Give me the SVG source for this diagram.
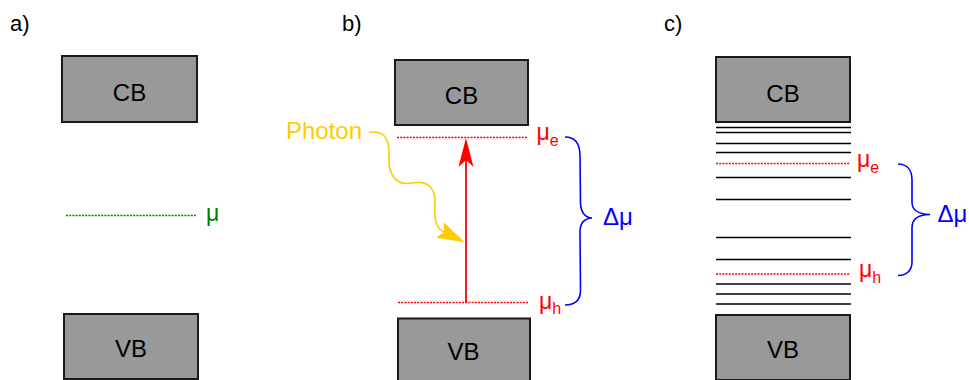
<svg xmlns="http://www.w3.org/2000/svg" width="969" height="380" viewBox="0 0 969 380">
<style>
text{font-family:"Liberation Sans",Arial,Helvetica,sans-serif;}
.band{fill:#999999;stroke:#1a1a1a;stroke-width:2;}
.bt{font-size:24px;fill:#000;text-anchor:middle;}
.lbl{font-size:22px;fill:#000;}
.lvl{stroke:#000;stroke-width:1.6;fill:none;}
.dotr{stroke:#ff0000;stroke-width:1.5;stroke-dasharray:2 1.2;fill:none;}
.dotg{stroke:#008000;stroke-width:1.5;stroke-dasharray:2 1.2;fill:none;}
.mr{font-size:23px;fill:#ff0000;}
.mg{font-size:23px;fill:#008000;}
.sub{font-size:16px;}
.brace{stroke:#0000ff;stroke-width:1.6;fill:none;}
.dm{font-size:24px;fill:#0000ff;}
</style>
<defs>
<marker id="arrRed" markerUnits="userSpaceOnUse" markerWidth="32" markerHeight="18" viewBox="0 -9 30 18" refX="7" refY="0" orient="auto">
<path d="M0,-7.5 L29,0 L0,7.5 L7,0 Z" fill="#ff0000"/>
</marker>
<marker id="arrYel" markerUnits="userSpaceOnUse" markerWidth="30" markerHeight="20" viewBox="0 -10 30 20" refX="4.5" refY="0" orient="auto">
<path d="M0,-8.7 L27.5,0 L0,8.7 L4.5,0 Z" fill="#ffcc00"/>
</marker>
</defs>

<g id="panel-a">
<text class="lbl" x="10" y="31">a)</text>
<g id="a-cb"><rect class="band" x="62" y="56" width="135" height="66"/><text class="bt" x="129.5" y="101">CB</text></g>
<g id="a-vb"><rect class="band" x="64" y="314" width="134" height="65"/><text class="bt" x="131" y="357">VB</text></g>
<g id="a-mu"><line class="dotg" x1="66" y1="215.5" x2="197" y2="215.5"/><text class="mg" x="206" y="220.5">μ</text></g>
</g>

<g id="panel-b">
<text class="lbl" x="342" y="31">b)</text>
<g id="b-cb"><rect class="band" x="395" y="60" width="133" height="65"/><text class="bt" x="461.5" y="104">CB</text></g>
<g id="b-vb"><rect class="band" x="398" y="318.5" width="132" height="66"/><text class="bt" x="463.5" y="360">VB</text></g>
<g id="b-mue"><line class="dotr" x1="397" y1="137.5" x2="527" y2="137.5"/><text class="mr" x="536.5" y="139.5">μ<tspan class="sub" dy="6.5">e</tspan></text></g>
<g id="b-muh"><line class="dotr" x1="398" y1="302.5" x2="529" y2="302.5"/><text class="mr" x="539" y="308.5">μ<tspan class="sub" dy="5">h</tspan></text></g>
<g id="b-photon"><text x="286" y="139" style="font-size:24px;fill:#ffcc00">Photon</text></g>
<g id="b-dmu"><text class="dm" x="603" y="225">Δμ</text></g>
</g>

<g id="panel-c">
<text class="lbl" x="664" y="31">c)</text>
<g id="c-cb"><rect class="band" x="716" y="57" width="134" height="65"/><text class="bt" x="783" y="102">CB</text></g>
<g id="c-vb"><rect class="band" x="716" y="315" width="134" height="65"/><text class="bt" x="783" y="358">VB</text></g>
<g id="c-levels">
<line class="lvl" x1="716" y1="127.5" x2="851" y2="127.5"/>
<line class="lvl" x1="716" y1="132.5" x2="851" y2="132.5"/>
<line class="lvl" x1="716" y1="143.5" x2="851" y2="143.5"/>
<line class="lvl" x1="716" y1="152.5" x2="851" y2="152.5"/>
<line class="lvl" x1="716" y1="177.5" x2="851" y2="177.5"/>
<line class="lvl" x1="716" y1="199.5" x2="851" y2="199.5"/>
<line class="lvl" x1="716" y1="237.5" x2="851" y2="237.5"/>
<line class="lvl" x1="716" y1="259.5" x2="851" y2="259.5"/>
<line class="lvl" x1="716" y1="284" x2="851" y2="284"/>
<line class="lvl" x1="716" y1="294" x2="851" y2="294"/>
<line class="lvl" x1="716" y1="304" x2="851" y2="304"/>
</g>
<g id="c-mue"><line class="dotr" x1="716" y1="163.5" x2="850" y2="163.5"/><text class="mr" x="857" y="166.5">μ<tspan class="sub" dy="6.5">e</tspan></text></g>
<g id="c-muh"><line class="dotr" x1="716" y1="274" x2="850" y2="274"/><text class="mr" x="859" y="277">μ<tspan class="sub" dy="5.5">h</tspan></text></g>
<g id="c-dmu"><text class="dm" x="937.5" y="222">Δμ</text></g>
</g>

<g id="connectors">
<line x1="466" y1="302.5" x2="466" y2="160" stroke="#ff0000" stroke-width="1.8" marker-end="url(#arrRed)"/>
<path d="M369,132.5 C382,130 390,137 389,155 C388,174 395,186 412,183 C428,180 436,188 435,205 C434,220 436,228 444,232" stroke="#ffcc00" stroke-width="1.6" fill="none" marker-end="url(#arrYel)"/>
<path class="brace" d="M565,137 C576,137 580,144 580,156 L580.5,203 C581,212 584,217.5 592,218 C584,218.5 580,223 580,232 L580.5,290 C580.5,300 575,305 565,305"/>
<path class="brace" d="M898,164 C907,164 912,170 912,180 L912,202 C912,210 917,214 930,214.5 C917,215 912,219 912,228 L912,262 C912,270 907,275.5 898,275.5"/>
</g>
</svg>
